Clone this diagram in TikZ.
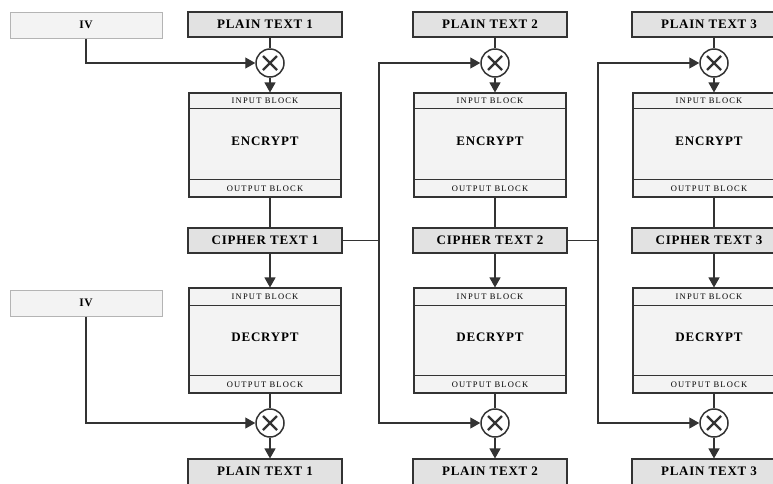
\documentclass[tikz,border=0pt]{standalone}
\usepackage{fontspec}
\setmainfont{Liberation Serif}
\newfontfamily\labfont[LetterSpace=6]{Liberation Serif}
\newfontfamily\smallfont[LetterSpace=14]{Liberation Serif}
\usetikzlibrary{arrows.meta}
\definecolor{boxfill}{HTML}{E2E2E2}
\definecolor{lightfill}{HTML}{F3F3F3}
\definecolor{ivline}{HTML}{B4B4B4}
\definecolor{ink}{HTML}{333333}
\begin{document}
\begin{tikzpicture}[x=1pt,y=-1pt,
  textbox/.style={draw=ink, fill=boxfill, line width=1.1pt, minimum width=154pt, minimum height=25pt, inner sep=0pt, font=\labfont\bfseries\fontsize{13}{13}\selectfont},
  ivbox/.style={draw=ivline, fill=lightfill, line width=1pt, minimum width=152pt, minimum height=26pt, inner sep=0pt, font=\labfont\bfseries\fontsize{11.5}{11.5}\selectfont},
  cryptbox/.style={draw=ink, fill=lightfill, line width=1.1pt, minimum width=152pt, minimum height=104pt, inner sep=0pt, font=\labfont\bfseries\fontsize{13}{13}\selectfont},
  bandlabel/.style={inner sep=0pt, font=\smallfont\fontsize{8.5}{8.5}\selectfont},
  xorc/.style={circle, draw=ink, fill=white, line width=1.5pt, minimum size=28pt, inner sep=0pt},
  xmark/.style={line width=2.4pt, draw=ink},
  conn/.style={draw=ink, line width=1.2pt},
  arr/.style={conn, -{Triangle[width=11pt,length=10pt]}},
]
\useasboundingbox (0,0) rectangle (773,483);
\clip (0,0) rectangle (773,483);
\fill[white] (0,0) rectangle (773,483);

% IV boxes
\node[ivbox] (ivt) at (86,25) {IV};
\node[ivbox] (ivb) at (86,303) {IV};

\foreach \i/\bx/\lx in {1/265/270, 2/490/495, 3/709/714} {
  % top plaintext
  \node[textbox] (pt\i) at (\bx,24.5) {PLAIN TEXT \i};
  \node[xorc] (xt\i) at (\lx,63) {};
  \draw[xmark] (xt\i.center) ++(-7,-7) -- ++(14,14);
  \draw[xmark] (xt\i.center) ++(-7,7) -- ++(14,-14);
  % encrypt
  \node[cryptbox] (enc\i) at (\bx,145) {};
  \node[inner sep=0pt, font=\labfont\bfseries\fontsize{13}{13}\selectfont] (encl\i) at ([yshift=4pt]enc\i.center) {ENCRYPT};
  \draw[conn,line width=1pt] ([yshift=-16pt]enc\i.north west) -- ([yshift=-16pt]enc\i.north east);
  \draw[conn,line width=1pt] ([yshift=18pt]enc\i.south west) -- ([yshift=18pt]enc\i.south east);
  \node[bandlabel] (ein\i) at ([yshift=-8.5pt]enc\i.north) {INPUT BLOCK};
  \node[bandlabel] (eout\i) at ([yshift=9pt]enc\i.south) {OUTPUT BLOCK};
  % ciphertext
  \node[textbox] (ct\i) at (\bx,240.5) {CIPHER TEXT \i};
  % decrypt
  \node[cryptbox, minimum height=105pt] (dec\i) at (\bx,340.5) {};
  \node[inner sep=0pt, font=\labfont\bfseries\fontsize{13}{13}\selectfont] (decl\i) at ([yshift=3pt]dec\i.center) {DECRYPT};
  \draw[conn,line width=1pt] ([yshift=-18pt]dec\i.north west) -- ([yshift=-18pt]dec\i.north east);
  \draw[conn,line width=1pt] ([yshift=18pt]dec\i.south west) -- ([yshift=18pt]dec\i.south east);
  \node[bandlabel] (din\i) at ([yshift=-9pt]dec\i.north) {INPUT BLOCK};
  \node[bandlabel] (dout\i) at ([yshift=9pt]dec\i.south) {OUTPUT BLOCK};
  \node[xorc] (xb\i) at (\lx,423) {};
  \draw[xmark] (xb\i.center) ++(-7,-7) -- ++(14,14);
  \draw[xmark] (xb\i.center) ++(-7,7) -- ++(14,-14);
  % bottom plaintext
  \node[textbox, minimum height=28pt] (pb\i) at (\bx,473) {};
  \node[inner sep=0pt, font=\labfont\bfseries\fontsize{13}{13}\selectfont] (pbl\i) at (\bx,471) {PLAIN TEXT \i};
  % connectors
  \draw[conn] (pt\i.south -| xt\i) -- (xt\i.north);
  \draw[arr] (xt\i.south) -- (enc\i.north -| xt\i);
  \draw[conn] (enc\i.south -| xt\i) -- (ct\i.north -| xt\i);
  \draw[arr] (ct\i.south -| xt\i) -- (dec\i.north -| xt\i);
  \draw[conn] (dec\i.south -| xt\i) -- (xb\i.north);
  \draw[arr] (xb\i.south) -- (pb\i.north -| xb\i);
}

% IV connectors
\draw[arr] (ivt.south) |- (xt1.west);
\draw[arr] (ivb.south) |- (xb1.west);

% chaining connectors
\coordinate (j1) at (379,240.5);
\coordinate (j2) at (598,240.5);
\draw[conn] (ct1.east) -- (j1);
\draw[arr] (j1) |- (xt2.west);
\draw[arr] (j1) |- (xb2.west);
\draw[conn] (ct2.east) -- (j2);
\draw[arr] (j2) |- (xt3.west);
\draw[arr] (j2) |- (xb3.west);
\end{tikzpicture}
\end{document}
